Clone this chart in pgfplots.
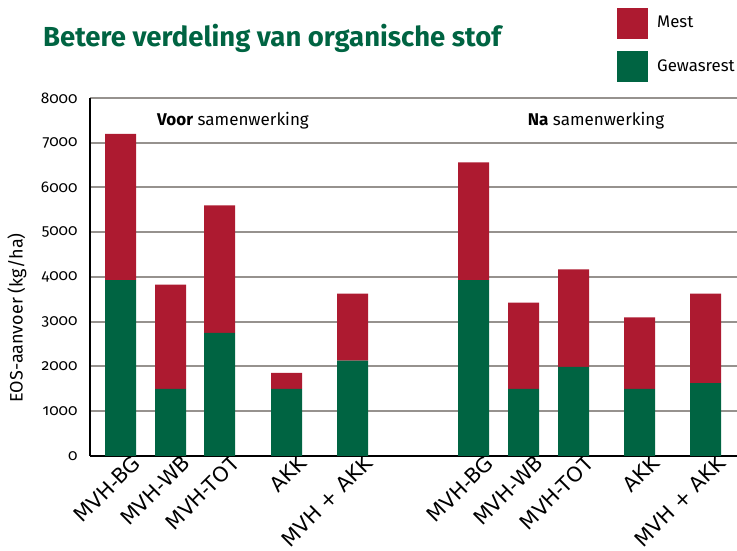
\documentclass[border=0pt]{standalone}
\usepackage{fontspec}
\setmainfont{Fira Sans}
\newfontfamily\oldnum[Numbers=OldStyle]{Fira Sans}
\newfontfamily\dejavu{DejaVu Sans}
\usepackage{pgfplots}
\pgfplotsset{compat=1.18}
\definecolor{mest}{RGB}{173,26,48}
\definecolor{gewas}{RGB}{0,100,66}
\definecolor{gridc}{RGB}{150,146,142}
\pgfplotstableread{
x     gewas  mest
120.5 3930   3270
170.5 1500   2330
219.5 2750   2850
286.5 1500   360
352.5 2130   1500
473.5 3930   2630
523.5 1500   1930
573.5 1990   2180
639.5 1500   1600
705.5 1630   2000
}\datatable
\begin{document}
\begin{tikzpicture}[x=1bp,y=1bp]
\useasboundingbox (0,0) rectangle (737,551);
\begin{axis}[
  at={(90bp,95bp)}, anchor=south west,
  scale only axis, width=647bp, height=358bp,
  xmin=90, xmax=737, ymin=0, ymax=8000,
  ybar stacked, bar width=31,
  axis x line*=bottom, axis y line*=left,
  axis line style={black, line width=1.3bp},
  ymajorgrids, grid style={gridc, line width=2bp},
  major tick length=0pt,
  ytick={0,1000,...,8000},
  scaled y ticks=false,
  /pgf/number format/assume math mode=true,
  /pgf/number format/1000 sep={},
  yticklabel style={font=\oldnum\fontsize{15.5bp}{18bp}\selectfont, xshift=-9bp},
  xtick={120.5,170.5,219.5,286.5,352.5,473.5,523.5,573.5,639.5,705.5},
  xticklabels={MVH-BG,MVH-WB,MVH-TOT,AKK,MVH + AKK,MVH-BG,MVH-WB,MVH-TOT,AKK,MVH + AKK},
  xticklabel style={font=\dejavu\fontsize{20.5bp}{23bp}\selectfont, rotate=45, anchor=north east, inner sep=0bp, xshift=9bp, yshift=-6bp},
  clip=false,
]
\addplot+[draw=none, fill=gewas] table[x=x, y=gewas] {\datatable};
\addplot+[draw=none, fill=mest] table[x=x, y=mest] {\datatable};
\end{axis}
\node[anchor=base west, text=gewas, font=\fontsize{27.5bp}{32bp}\selectfont\bfseries, inner sep=0pt] at (43,551-47) {Betere verdeling van organische stof};
\node[rotate=90, font=\fontsize{18bp}{21bp}\selectfont, inner sep=0pt] at (17,551-318) {EOS-aanvoer (kg/ha)};
\node[anchor=base, font=\fontsize{17bp}{20bp}\selectfont, inner sep=0pt] at (233,551-126) {\textbf{Voor} samenwerking};
\node[anchor=base, font=\fontsize{17bp}{20bp}\selectfont, inner sep=0pt] at (596,551-126) {\textbf{Na} samenwerking};
\fill[mest] (617,551-8) rectangle (648,551-39);
\fill[gewas] (617,551-51) rectangle (648,551-82);
\node[anchor=west, font=\fontsize{16.8bp}{19bp}\selectfont, inner sep=0pt] at (657,551-22) {Mest};
\node[anchor=west, font=\fontsize{16.8bp}{19bp}\selectfont, inner sep=0pt] at (657,551-66) {Gewasrest};
\end{tikzpicture}
\end{document}
